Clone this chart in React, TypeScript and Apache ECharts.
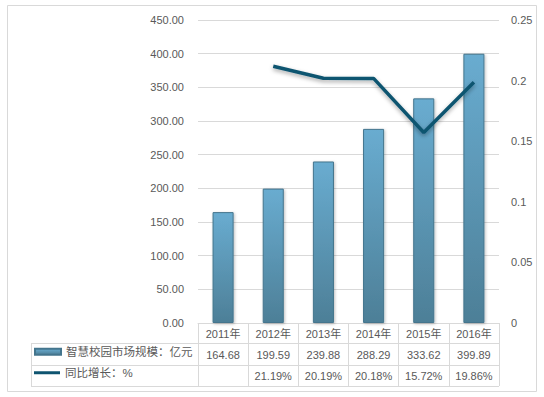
import React, { useEffect, useRef } from "react";
import * as echarts from "echarts";

const years = ["2011年", "2012年", "2013年", "2014年", "2015年", "2016年"];
const marketSize = [164.68, 199.59, 239.88, 288.29, 333.62, 399.89];
const growthPct: (number | null)[] = [null, 21.19, 20.19, 20.18, 15.72, 19.86];
const barName = "智慧校园市场规模：亿元";
const lineName = "同比增长：%";

const FONT = "'Liberation Sans', 'Noto Sans CJK SC', sans-serif";
const TXT = "#595959";
const GRID = "#d9d9d9";

export default function App() {
  const ref = useRef<HTMLDivElement>(null);
  useEffect(() => {
    if (!ref.current) return;
    const chart = echarts.init(ref.current, null, { renderer: "svg" });
    const tableLeft = 31;
    const tableRight = 499;
    const option: any = {
      animation: false,
      backgroundColor: "#fff",
      textStyle: { fontFamily: FONT },
      grid: { left: 198, right: 45, top: 20, bottom: 74, containLabel: false },
      legend: [
        {
          data: [barName],
          left: 34,
          top: 346,
          padding: 0,
          itemWidth: 26,
          itemHeight: 6,
          icon: "rect",
          textStyle: { color: TXT, fontSize: 11.5, fontFamily: FONT },
        },
        {
          data: [lineName],
          left: 34,
          top: 367,
          padding: 0,
          itemWidth: 26,
          itemHeight: 3,
          icon: "rect",
          textStyle: { color: TXT, fontSize: 11.5, fontFamily: FONT },
        },
      ],
      xAxis: [
        {
          type: "category",
          data: years,
          position: "bottom",
          axisLine: { lineStyle: { color: GRID } },
          axisTick: { show: true, length: 63, lineStyle: { color: GRID } },
          axisLabel: { color: TXT, fontSize: 11, margin: 5, fontFamily: FONT },
        },
        {
          type: "category",
          data: marketSize.map((v) => v.toFixed(2)),
          position: "bottom",
          offset: 21,
          axisLine: { show: false },
          axisTick: { show: false },
          axisLabel: { color: TXT, fontSize: 11, margin: 5, fontFamily: FONT },
        },
        {
          type: "category",
          data: growthPct.map((v) => (v == null ? "" : v.toFixed(2) + "%")),
          position: "bottom",
          offset: 42,
          axisLine: { show: false },
          axisTick: { show: false },
          axisLabel: { color: TXT, fontSize: 11, margin: 5, fontFamily: FONT },
        },
      ],
      yAxis: [
        {
          type: "value",
          min: 0,
          max: 450,
          interval: 50,
          axisLine: { show: false },
          axisTick: { show: false },
          splitLine: { lineStyle: { color: GRID } },
          axisLabel: {
            color: TXT,
            fontSize: 11,
            margin: 14,
            fontFamily: FONT,
            formatter: (v: number) => v.toFixed(2),
          },
        },
        {
          type: "value",
          min: 0,
          max: 0.25,
          interval: 0.05,
          position: "right",
          axisLine: { show: false },
          axisTick: { show: false },
          splitLine: { show: false },
          axisLabel: {
            color: TXT,
            fontSize: 11,
            margin: 12,
            fontFamily: FONT,
            formatter: (v: number) => String(parseFloat(v.toFixed(2))),
          },
        },
      ],
      series: [
        {
          name: barName,
          type: "bar",
          xAxisIndex: 0,
          yAxisIndex: 0,
          data: marketSize,
          barWidth: "42%",
          itemStyle: {
            color: new echarts.graphic.LinearGradient(0, 0, 0, 1, [
              { offset: 0, color: "#69acd0" },
              { offset: 1, color: "#4d7f97" },
            ]),
            borderColor: "#44758d",
            borderWidth: 1,
            shadowBlur: 3,
            shadowOffsetX: 1,
            shadowOffsetY: 1,
            shadowColor: "rgba(0,0,0,0.25)",
          },
        },
        {
          name: lineName,
          type: "line",
          xAxisIndex: 0,
          yAxisIndex: 1,
          data: growthPct.map((v) => (v == null ? null : v / 100)),
          symbol: "none",
          lineStyle: {
            color: "#0f5470",
            width: 3.5,
            shadowBlur: 4,
            shadowOffsetY: 2,
            shadowColor: "rgba(0,0,0,0.35)",
          },
          itemStyle: { color: "#0f5470" },
        },
      ],
      graphic: [
        {
          type: "rect",
          shape: { x: 7.5, y: 5.5, width: 529, height: 386 },
          style: { fill: "none", stroke: GRID, lineWidth: 1 },
          silent: true,
        },
        {
          type: "line",
          shape: { x1: tableLeft, y1: 343.5, x2: tableRight, y2: 343.5 },
          style: { stroke: GRID, lineWidth: 1 },
        },
        {
          type: "line",
          shape: { x1: tableLeft, y1: 365.5, x2: tableRight, y2: 365.5 },
          style: { stroke: GRID, lineWidth: 1 },
        },
        {
          type: "line",
          shape: { x1: tableLeft, y1: 386.5, x2: tableRight, y2: 386.5 },
          style: { stroke: GRID, lineWidth: 1 },
        },
        {
          type: "line",
          shape: { x1: tableLeft + 0.5, y1: 343.5, x2: tableLeft + 0.5, y2: 386.5 },
          style: { stroke: GRID, lineWidth: 1 },
        },
      ],
    };
    chart.setOption(option);
    return () => chart.dispose();
  }, []);
  return (
    <div
      ref={ref}
      style={{ position: "fixed", left: 0, top: 0, width: 544, height: 397 }}
    />
  );
}
